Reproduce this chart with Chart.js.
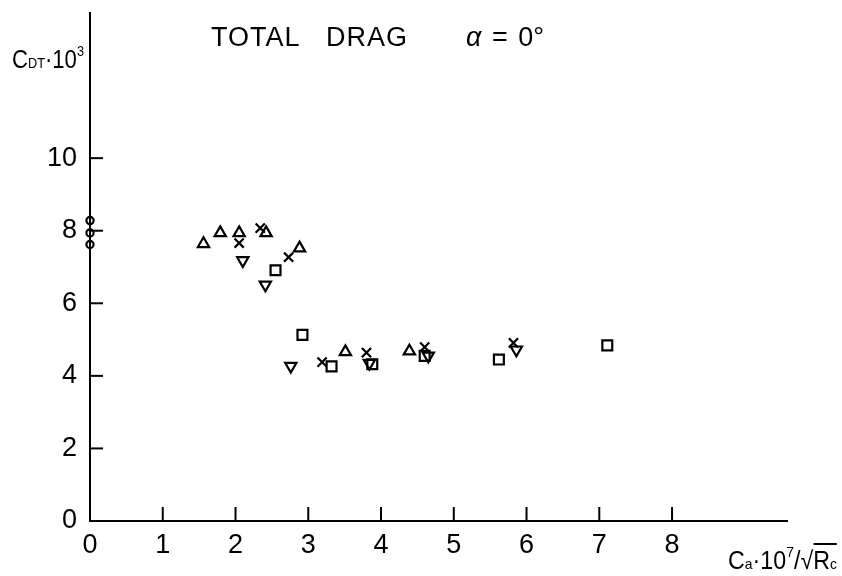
<!DOCTYPE html>
<html lang="en">
<head>
  <meta charset="UTF-8">
  <title>Total Drag</title>
  <script src="https://cdn.jsdelivr.net/npm/chart.js"></script>
  <style>
    body { margin: 0; background: #fff; }
    #wrap { position: relative; width: 842px; height: 576px; }
    .lbl {
      position: absolute;
      font-family: 'Liberation Sans', 'DejaVu Sans', sans-serif;
      color: #000;
      white-space: nowrap;
      line-height: 1;
    }
    #title1 { left: 211px; top: 24px; font-size: 27px; letter-spacing: 1px; }
    #title2 { left: 326px; top: 24px; font-size: 27px; letter-spacing: 1px; }
    #alpha { left: 466px; top: 24px; font-size: 27px; word-spacing: 3px; }
    #ylab { left: 12px; top: 43px; font-size: 26px; transform: scaleX(0.85); transform-origin: left top; }
    #xlab { left: 728px; top: 544px; font-size: 25px; transform: scaleX(0.93); transform-origin: left top; }
    .small { font-size: 15px; }
    sup { font-size: 15px; vertical-align: 12px; }
    .over { border-top: 2px solid #000; padding-top: 1px; }
  </style>
</head>
<body>
<div id="wrap">
  <canvas id="dragChart" width="842" height="576"></canvas>
  <div class="lbl" id="title1">TOTAL</div>
  <div class="lbl" id="title2">DRAG</div>
  <div class="lbl" id="alpha"><i>α</i> = 0°</div>
  <div class="lbl" id="ylab">C<span class="small">DT</span>·10<sup>3</sup></div>
  <div class="lbl" id="xlab">C<span class="small">a</span>·10<sup>7</sup>/√<span class="over">R<span class="small">c</span></span></div>
</div>

<script>
  // tick labels
  const xTicks = [0, 1, 2, 3, 4, 5, 6, 7, 8];
  const yTicks = [0, 2, 4, 6, 8, 10];

  // data, one pair of arrays per marker type
  const circleX = [0, 0, 0];
  const circleY = [8.28, 7.94, 7.62];

  const triUpX = [1.56, 1.79, 2.05, 2.42, 2.88, 3.51, 4.39];
  const triUpY = [7.64, 7.94, 7.94, 7.94, 7.52, 4.66, 4.68];

  const triDownX = [2.10, 2.41, 2.76, 3.84, 4.65, 5.86];
  const triDownY = [7.18, 6.51, 4.27, 4.35, 4.55, 4.72];

  const crossX = [2.05, 2.34, 2.73, 3.19, 3.80, 4.60, 5.82];
  const crossY = [7.66, 8.07, 7.27, 4.38, 4.64, 4.79, 4.91];

  const squareX = [2.55, 2.92, 3.32, 3.88, 4.60, 5.62, 7.11];
  const squareY = [6.91, 5.13, 4.26, 4.32, 4.55, 4.45, 4.84];

  const pts = (xs, ys) => xs.map((x, i) => ({ x: x, y: ys[i] }));

  function series(xs, ys, style, radius, rotation) {
    return {
      data: pts(xs, ys),
      pointStyle: style,
      pointRadius: radius,
      pointRotation: rotation || 0,
      pointBorderWidth: 2.2,
      borderColor: '#000',
      backgroundColor: 'rgba(0,0,0,0)',
      showLine: false,
      clip: false
    };
  }

  // tick marks point inwards on the original, so draw them by hand off the scales
  const innerTicks = {
    id: 'innerTicks',
    afterDraw(chart) {
      const { ctx, scales: { x, y } } = chart;
      ctx.save();
      ctx.strokeStyle = '#000';
      ctx.lineWidth = 2;
      xTicks.forEach(v => {
        const px = x.getPixelForValue(v);
        ctx.beginPath();
        ctx.moveTo(px, y.bottom);
        ctx.lineTo(px, y.bottom - 14);
        ctx.stroke();
      });
      yTicks.forEach(v => {
        const py = y.getPixelForValue(v);
        ctx.beginPath();
        ctx.moveTo(x.left, py);
        ctx.lineTo(x.left + 13, py);
        ctx.stroke();
      });
      ctx.restore();
    }
  };

  const tickFont = { family: "'Liberation Sans Narrow', 'Liberation Sans', sans-serif", size: 27 };

  new Chart(document.getElementById('dragChart'), {
    type: 'scatter',
    data: {
      datasets: [
        series(circleX, circleY, 'circle', 3.6),
        series(triUpX, triUpY, 'triangle', 6.5),
        series(triDownX, triDownY, 'triangle', 6.5, 180),
        series(crossX, crossY, 'crossRot', 6.5),
        series(squareX, squareY, 'rect', 7)
      ]
    },
    options: {
      responsive: false,
      animation: false,
      devicePixelRatio: 1,
      layout: { padding: { left: 0, right: 55, top: 13, bottom: 0 } },
      plugins: { legend: { display: false }, tooltip: { enabled: false } },
      scales: {
        x: {
          type: 'linear',
          min: 0,
          max: 9.58,
          afterFit: s => { s.height = 55; s.paddingLeft = 0; s.paddingRight = 0; },
          border: { display: true, color: '#000', width: 2 },
          grid: { display: false, drawTicks: false },
          ticks: {
            stepSize: 1,
            autoSkip: false,
            maxRotation: 0,
            padding: 8,
            color: '#000',
            font: tickFont,
            callback: v => xTicks.includes(v) ? String(v) : ''
          }
        },
        y: {
          type: 'linear',
          min: 0,
          max: 14,
          afterFit: s => { s.width = 90; s.paddingTop = 0; s.paddingBottom = 0; },
          border: { display: true, color: '#000', width: 2 },
          grid: { display: false, drawTicks: false },
          ticks: {
            stepSize: 2,
            autoSkip: false,
            padding: 13,
            color: '#000',
            font: tickFont,
            callback: v => yTicks.includes(v) ? String(v) : ''
          }
        }
      }
    },
    plugins: [innerTicks]
  });
</script>
</body>
</html>
